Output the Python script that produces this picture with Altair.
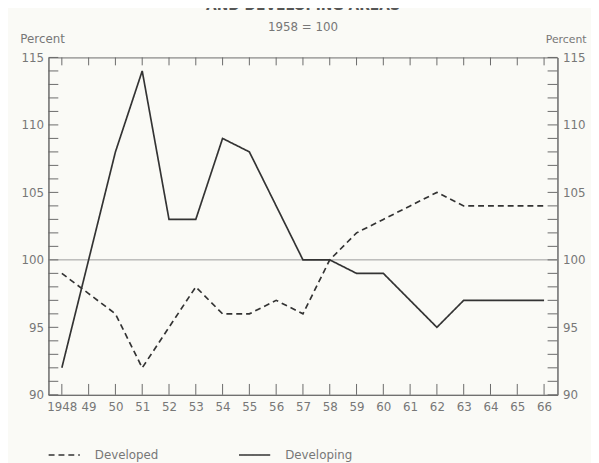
import altair as alt
import pandas as pd

years = list(range(1948, 1967))
developed = [99, 97.5, 96, 92, 95, 98, 96, 96, 97, 96, 100, 102, 103, 104, 105, 104, 104, 104, 104]
developing = [92, 100, 108, 114, 103, 103, 109, 108, 104, 100, 100, 99, 99, 97, 95, 97, 97, 97, 97]
series_names = ["Developed", "Developing"]
y_major = [90, 95, 100, 105, 110, 115]
y_minor = list(range(90, 116))

rows = []
for name, vals in zip(series_names, [developed, developing]):
    for yr, v in zip(years, vals):
        rows.append({"year": yr, "value": v, "series": name})
df = pd.DataFrame(rows)
yrs_df = pd.DataFrame({"year": years})
minor_df = pd.DataFrame({"v": y_minor})
base_df = pd.DataFrame({"v": [100]})

W, H = 516, 342
INK = "#333333"
GREY = "#6a6a6a"
LBL = "#777777"
FONT = "DejaVu Sans"

xs = alt.Scale(domain=[1947.5, 1966.5], nice=False, zero=False)
ys = alt.Scale(domain=[90, 115], nice=False, zero=False)

lines = alt.Chart(df).mark_line(color=INK, strokeWidth=1.7).encode(
    x=alt.X("year:Q", scale=xs, title=None,
            axis=alt.Axis(values=years,
                          labelExpr="datum.value == 1948 ? '1948' : substring(toString(datum.value), 2)",
                          labelOverlap=False, labelPadding=7, tickSize=0)),
    y=alt.Y("value:Q", scale=ys, title="Percent",
            axis=alt.Axis(values=y_major, tickSize=0, labelPadding=5,
                          titleAngle=0, titleX=-29, titleY=-15, titleAlign="left",
                          titleBaseline="alphabetic", titleFontSize=12)),
    strokeDash=alt.StrokeDash("series:N",
                              scale=alt.Scale(domain=series_names, range=[[6, 4], [1, 0]]),
                              legend=alt.Legend(title=None, orient="none", legendX=-1, legendY=386,
                                                direction="horizontal", symbolType="stroke",
                                                symbolStrokeColor=INK, symbolStrokeWidth=1.4,
                                                symbolSize=1000, columnPadding=78,
                                                labelOffset=14, labelColor=LBL, labelFontSize=12,
                                                labelFont=FONT)),
)

base_rule = alt.Chart(base_df).mark_rule(color="#9a9a9a", strokeWidth=1).encode(
    y=alt.Y("v:Q", scale=ys, axis=None)
)

left_ticks = alt.Chart(minor_df).mark_rule(color=GREY, strokeWidth=1).encode(
    x=alt.value(0), x2=alt.value(10), y=alt.Y("v:Q", scale=ys, axis=None)
)
right_ticks = alt.Chart(minor_df).mark_rule(color=GREY, strokeWidth=1).encode(
    x=alt.value(W - 10), x2=alt.value(W),
    y=alt.Y("v:Q", scale=ys, title="Percent",
            axis=alt.Axis(orient="right", values=y_major, tickSize=0, labelPadding=5,
                          titleAngle=0, titleX=29, titleY=-15, titleAlign="right",
                          titleBaseline="alphabetic", titleFontSize=11))
)
bottom_ticks = alt.Chart(yrs_df).mark_rule(color=GREY, strokeWidth=1).encode(
    x=alt.X("year:Q", scale=xs, axis=None), y=alt.value(H - 11), y2=alt.value(H)
)
top_ticks = alt.Chart(yrs_df).mark_rule(color=GREY, strokeWidth=1).encode(
    x=alt.X("year:Q", scale=xs, axis=None), y=alt.value(0), y2=alt.value(8)
)

chart = alt.layer(base_rule, left_ticks, right_ticks, bottom_ticks, top_ticks, lines).resolve_axis(
    y="independent", x="independent"
).properties(
    width=W, height=H,
    autosize=alt.AutoSizeParams(type="none"),
    padding={"left": 41, "top": 47, "right": 34, "bottom": 66},
    background="#fafaf6",
    title=alt.TitleParams(text="AND DEVELOPING AREAS", subtitle="1958 = 100", anchor="middle",
                          frame="group", fontSize=14, fontWeight="bold", color="#555555", font=FONT,
                          subtitleFontSize=12, subtitleColor=LBL, subtitleFont=FONT,
                          subtitlePadding=9, offset=0),
).configure_view(
    stroke=GREY, strokeWidth=1
).configure_axis(
    domainColor=GREY, labelColor=LBL, titleColor=LBL, labelFont=FONT, titleFont=FONT,
    labelFontSize=12, titleFontWeight="normal", grid=False
)

chart.save("out.html", embed_options={"renderer": "svg", "actions": False})
